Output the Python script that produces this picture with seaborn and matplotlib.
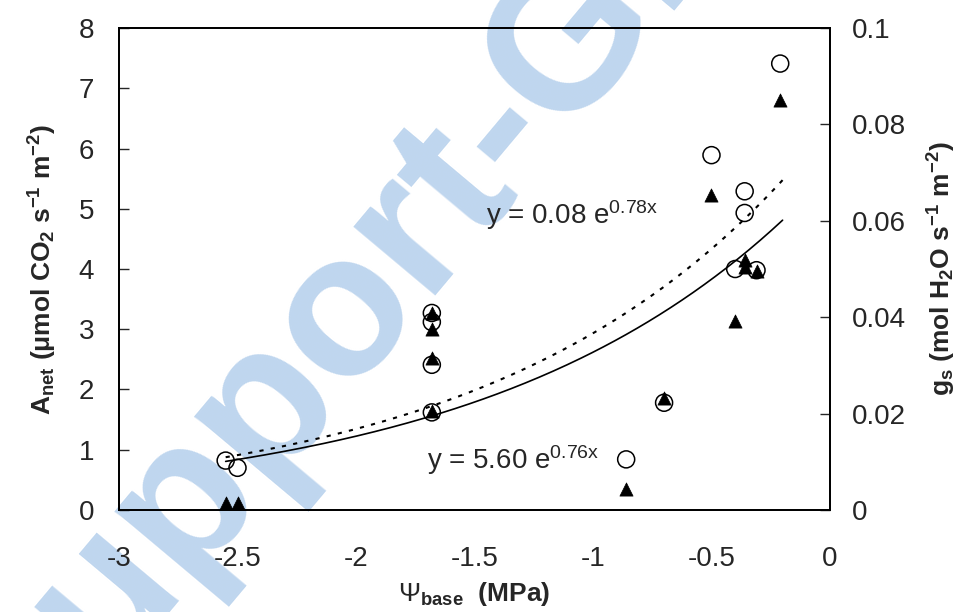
import numpy as np
import matplotlib
matplotlib.use("Agg")
import matplotlib.pyplot as plt
from matplotlib.ticker import FuncFormatter
import seaborn as sns

# base water potential (MPa) of each sample
psi = [-2.55, -2.50, -1.68, -1.68, -1.68, -1.68, -0.86, -0.70,
       -0.50, -0.40, -0.36, -0.36, -0.31, -0.21]
# net assimilation (umol CO2 s-1 m-2), open circles, left axis
anet = [0.82, 0.70, 3.27, 3.12, 2.41, 1.62, 0.84, 1.78,
        5.89, 4.00, 5.29, 4.93, 3.98, 7.41]
# stomatal conductance (mol H2O s-1 m-2), filled triangles, right axis
gs = [0.0015, 0.0015, 0.0409, 0.0376, 0.0315, 0.0205, 0.0044, 0.0232,
      0.0654, 0.0393, 0.0519, 0.0505, 0.0495, 0.0850]

# exponential trendlines as printed on the chart: y = a * exp(b x)
anet_fit = [5.60, 0.76]
gs_fit = [0.08, 0.78]

sns.set_style("white")
plt.rcParams["font.family"] = ["Liberation Sans", "DejaVu Sans"]
plt.rcParams["mathtext.fontset"] = "custom"
plt.rcParams["mathtext.rm"] = "Liberation Sans"
plt.rcParams["mathtext.bf"] = "Liberation Sans:bold"
plt.rcParams["mathtext.it"] = "Liberation Sans:italic"

fig = plt.figure(figsize=(9.66, 6.12), dpi=100)

# faint watermark, kept behind the plot
fig.text(0.455, 0.67, "Support-Green", fontsize=146, fontweight="bold",
         color="#b4cfec", alpha=0.85, rotation=50, ha="center", va="center",
         rotation_mode="anchor", zorder=-1)

ax = fig.add_axes([0.1232, 0.1667, 0.7360, 0.7875])
ax.patch.set_alpha(0)
ax2 = ax.twinx()

xfit = np.linspace(min(psi), -0.2, 200)
ax.plot(xfit, anet_fit[0] * np.exp(anet_fit[1] * xfit), color="black", lw=1.2)
ax2.plot(xfit, gs_fit[0] * np.exp(gs_fit[1] * xfit), color="black", lw=1.5,
         linestyle=(0, (2, 3.5)))

sns.scatterplot(x=psi, y=anet, ax=ax, marker="o", s=150, facecolor="none",
                edgecolor="black", linewidth=1.1, zorder=3)
sns.scatterplot(x=psi, y=gs, ax=ax2, marker="^", s=90, color="black",
                edgecolor="black", linewidth=0.5, zorder=4)

ax.set_xlim(-3, 0)
ax.set_ylim(0, 8)
ax2.set_ylim(0, 0.1)
ax.set_xticks(np.arange(-3, 0.01, 0.5))
ax.set_yticks(range(0, 9))
ax2.set_yticks(np.arange(0, 0.101, 0.02))
fmt = FuncFormatter(lambda v, p: "%g" % round(v, 3))
ax.xaxis.set_major_formatter(fmt)
ax2.yaxis.set_major_formatter(fmt)

ax.tick_params(axis="x", direction="in", length=7, width=1, labelsize=20, pad=26)
ax.tick_params(axis="y", direction="in", length=7, width=1, labelsize=20, pad=18)
ax2.tick_params(axis="y", direction="in", length=7, width=1, labelsize=20, pad=16)
for a in (ax, ax2):
    for sp in a.spines.values():
        sp.set_color("black")
        sp.set_linewidth(1.3)

ax.text(-1.45, 4.9, r"y = 0.08 e$^{\mathrm{0.78x}}$", fontsize=20, va="center", ha="left")
ax.text(-1.70, 0.82, r"y = 5.60 e$^{\mathrm{0.76x}}$", fontsize=20, va="center", ha="left")

ax.set_ylabel(r"$\mathbf{A_{net}\ (\mu mol\ CO_{2}\ s^{-1}\ m^{-2})}$",
              fontsize=19, labelpad=14)
ax2.set_ylabel(r"$\mathbf{g_{s}\ (mol\ H_{2}O\ s^{-1}\ m^{-2})}$",
               fontsize=19, labelpad=14)
ax.set_xlabel(r"$\Psi_{\mathbf{base}}$  $\mathbf{(MPa)}$", fontsize=19, labelpad=6)

fig.savefig("out.png", dpi=100)
